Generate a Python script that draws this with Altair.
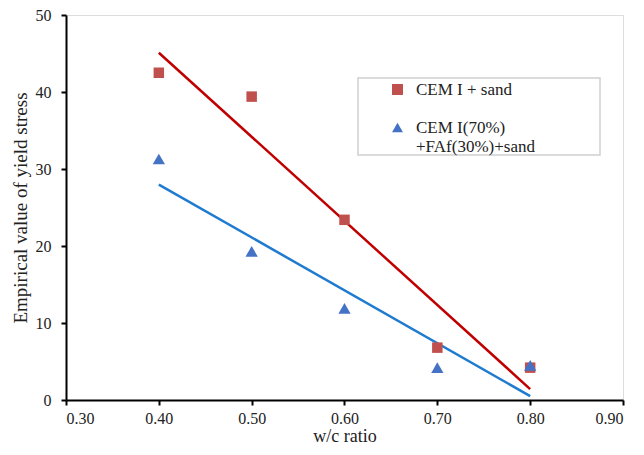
import altair as alt
import pandas as pd

wc = [0.40, 0.50, 0.60, 0.70, 0.80]
cem_sand = [42.5, 39.4, 23.4, 6.8, 4.2]
cem_fa_sand = [31.3, 19.3, 11.9, 4.2, 4.5]
series_names = ["CEM I + sand", "CEM I(70%)|+FAf(30%)+sand"]
marker_colors = ["#C0504D", "#4472C4"]
line_colors = ["#C00000", "#1F7BD0"]
shapes = ["square", "triangle-up"]
marker_sizes = [110, 150]
x_ticks = [0.30, 0.40, 0.50, 0.60, 0.70, 0.80, 0.90]
y_ticks = [0, 10, 20, 30, 40, 50]

rows = []
for name, vals in zip(series_names, [cem_sand, cem_fa_sand]):
    for x, y in zip(wc, vals):
        rows.append({"wc": x, "stress": y, "series": name, "line_key": name, "size_key": name})
df = pd.DataFrame(rows)

FONT = "Liberation Serif"

xenc = alt.X("wc:Q", title="w/c ratio",
             scale=alt.Scale(domain=[0.3, 0.9], nice=False, zero=False),
             axis=alt.Axis(values=x_ticks, format=".2f", grid=False,
                           domainColor="black", domainWidth=2, tickColor="black",
                           tickWidth=2, tickSize=5, labelPadding=5,
                           labelFont=FONT, labelFontSize=16, labelColor="#222",
                           titleFont=FONT, titleFontSize=18, titleFontWeight="normal",
                           titleColor="#222", titlePadding=1))
yenc = alt.Y("stress:Q", title="Empirical value of yield stress",
             scale=alt.Scale(domain=[0, 50], nice=False),
             axis=alt.Axis(values=y_ticks, grid=False,
                           domainColor="black", domainWidth=2, tickColor="black",
                           tickWidth=2, tickSize=5, labelPadding=10,
                           labelFont=FONT, labelFontSize=16, labelColor="#222",
                           titleFont=FONT, titleFontSize=19, titleFontWeight="normal",
                           titleColor="#222", titlePadding=5))

leg = dict(title=None, orient="none", legendX=323, legendY=66,
           labelFont=FONT, labelFontSize=17, labelColor="#222",
           labelExpr="split(datum.label, '|')",
           symbolSize=120, rowPadding=20, padding=0,
           labelOffset=10, labelLimit=300)

base = alt.Chart(df)

lines = base.transform_regression("wc", "stress", groupby=["line_key"]).mark_line(
    strokeWidth=2.5
).encode(
    x=xenc, y=yenc,
    stroke=alt.Stroke("line_key:N", scale=alt.Scale(range=line_colors), legend=None),
)

points = base.mark_point(filled=True, opacity=1).encode(
    x=xenc, y=yenc,
    color=alt.Color("series:N", scale=alt.Scale(domain=series_names, range=marker_colors),
                    legend=alt.Legend(**leg)),
    shape=alt.Shape("series:N", scale=alt.Scale(domain=series_names, range=shapes),
                    legend=alt.Legend(**leg)),
    size=alt.Size("size_key:N", scale=alt.Scale(range=marker_sizes), legend=None),
)

box = alt.Chart(pd.DataFrame({"a": [0]})).mark_rect(
    fill=None, stroke="#d0d0d0", strokeWidth=1.5
).encode(x=alt.value(292), x2=alt.value(534), y=alt.value(63), y2=alt.value(140))

chart = alt.layer(box, lines, points).properties(
    width=557, height=385,
    autosize=alt.AutoSizeParams(type="none"),
    padding={"left": 58, "top": 7, "right": 13, "bottom": 47},
).configure_view(stroke=None).configure(background="white")

chart.save("out.html", embed_options={"renderer": "svg", "actions": False})
